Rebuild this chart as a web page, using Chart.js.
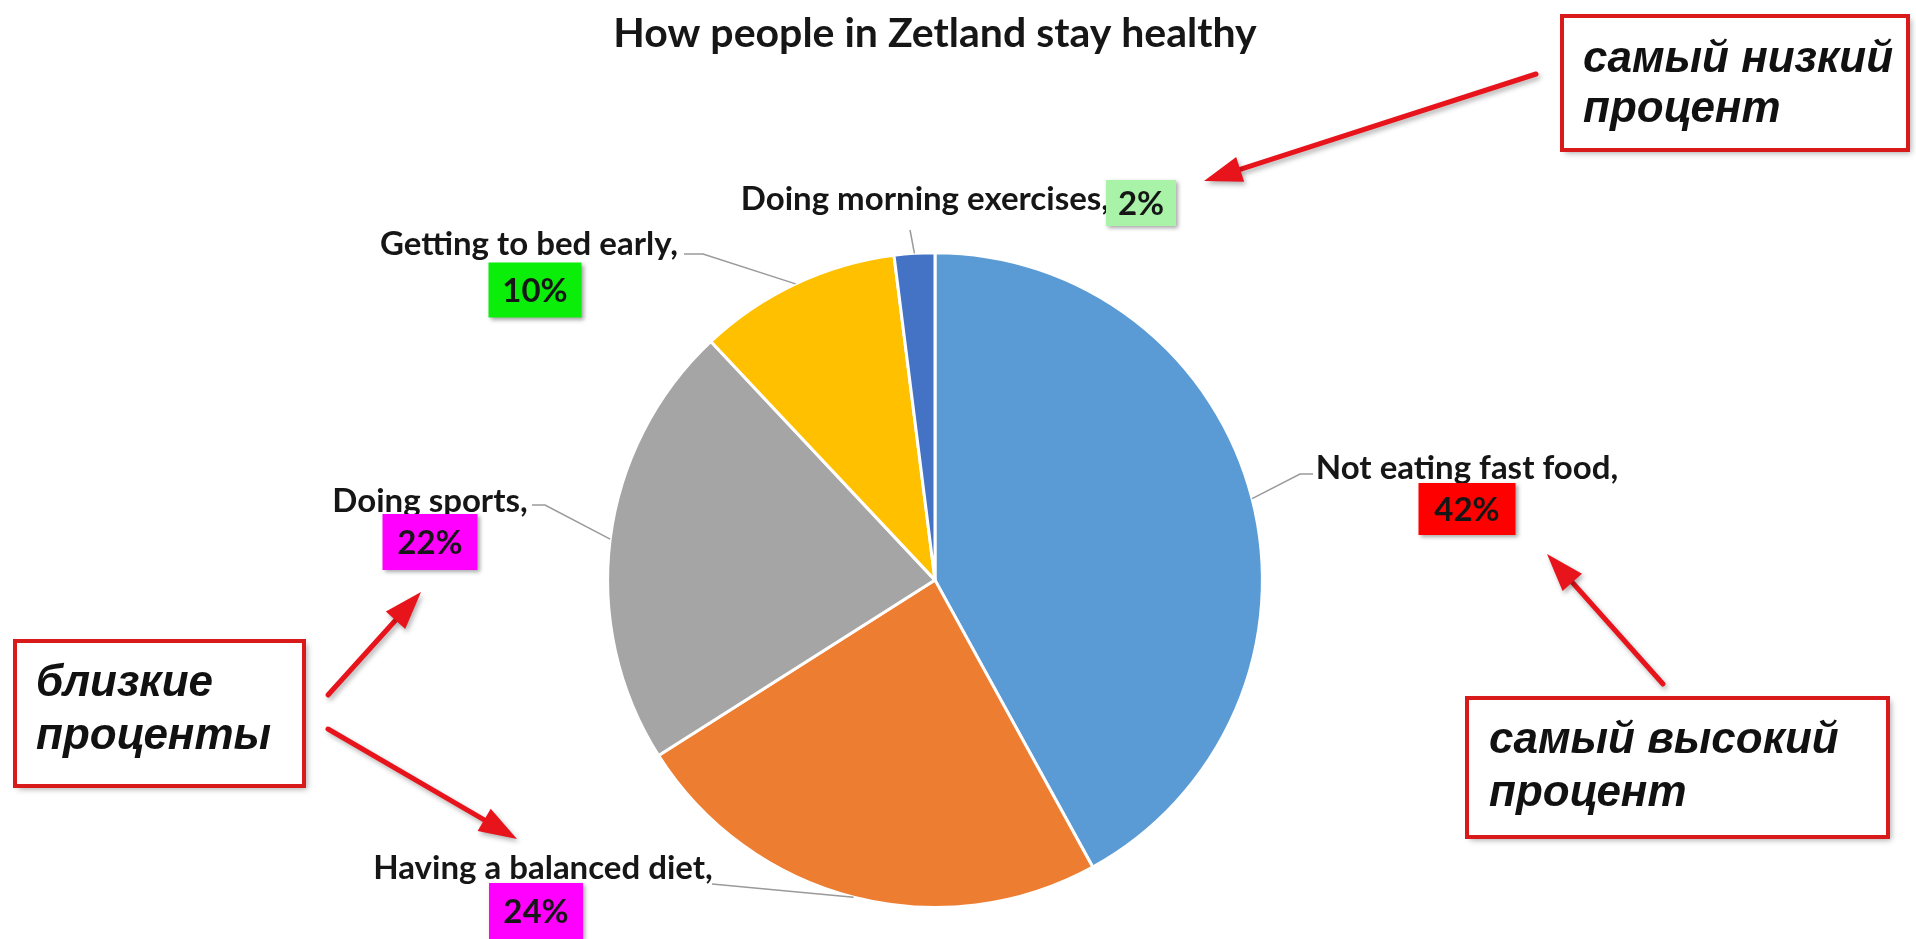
<!DOCTYPE html>
<html>
<head>
<meta charset="utf-8">
<title>How people in Zetland stay healthy</title>
<script src="https://cdn.jsdelivr.net/npm/chart.js@4.4.1/dist/chart.umd.min.js"></script>
<style>
    html, body { margin: 0; padding: 0; background: #fff; }
    #wrap { width: 1916px; height: 939px; position: relative; }
</style>
</head>
<body>
<div id="wrap"><canvas id="healthChart"></canvas></div>
<script>
// 資料
const categories = ['Not eating fast food', 'Having a balanced diet', 'Doing sports', 'Getting to bed early', 'Doing morning exercises'];
const shares = [42, 24, 22, 10, 2];
const sliceColors = ['#5B9BD5', '#ED7D31', '#A5A5A5', '#FFC000', '#4472C4'];
const badgeColors = ['#FF0000', '#FF00FF', '#FF00FF', '#0AEE0A', '#A9F3A9'];

// 標籤位置（畫布座標）
const labelLayout = [
    { name: [1467, 468], align: 'center', box: [1467, 509, 97, 52], leader: [[1300, 474], [1313, 474]] },
    { name: [543, 868], align: 'center', box: [536, 911, 94, 56], leader: [[712, 884]] },
    { name: [430, 501], align: 'center', box: [430, 542, 95, 56], leader: [[545, 505], [532, 505]] },
    { name: [529, 244], align: 'center', box: [535, 290, 93, 55], leader: [[703, 254], [684, 254]] },
    { name: [1109, 199], align: 'right', box: [1141, 203, 70, 46], leader: [[910, 230]] }
];

// 註解方塊與箭頭
const noteBoxes = [
    { x: 1562, y: 16, w: 346, h: 134, lines: ['самый низкий', 'процент'], tx: 1583, ty: [72, 122] },
    { x: 15, y: 641, w: 289, h: 145, lines: ['близкие', 'проценты'], tx: 36, ty: [696, 749] },
    { x: 1467, y: 698, w: 421, h: 139, lines: ['самый высокий', 'процент'], tx: 1489, ty: [753, 806] }
];
const noteArrows = [
    [1536, 74, 1204, 181],
    [328, 695, 421, 592],
    [328, 729, 517, 839],
    [1663, 684, 1547, 554]
];

const labelFont = 'bold 33px Lato';

const sliceLabels = {
    id: 'sliceLabels',
    afterDatasetsDraw(chart) {
        const ctx = chart.ctx;
        const arcs = chart.getDatasetMeta(0).data;
        ctx.save();
        arcs.forEach((arc, i) => {
            const { x, y, startAngle, endAngle, outerRadius } = arc.getProps(['x', 'y', 'startAngle', 'endAngle', 'outerRadius'], true);
            const mid = (startAngle + endAngle) / 2;
            const ex = x + Math.cos(mid) * outerRadius;
            const ey = y + Math.sin(mid) * outerRadius;
            const lay = labelLayout[i];

            // 引導線
            ctx.strokeStyle = '#9A9A9A';
            ctx.lineWidth = 1.5;
            ctx.beginPath();
            ctx.moveTo(ex, ey);
            lay.leader.forEach(p => ctx.lineTo(p[0], p[1]));
            ctx.stroke();

            // 類別名稱
            ctx.font = labelFont;
            ctx.fillStyle = '#161616';
            ctx.textAlign = lay.align;
            ctx.textBaseline = 'middle';
            ctx.fillText(categories[i] + ',', lay.name[0], lay.name[1]);

            // 百分比方塊
            const [bx, by, bw, bh] = lay.box;
            ctx.save();
            ctx.shadowColor = 'rgba(0,0,0,0.35)';
            ctx.shadowBlur = 4;
            ctx.shadowOffsetX = 2;
            ctx.shadowOffsetY = 2;
            ctx.fillStyle = badgeColors[i];
            ctx.fillRect(bx - bw / 2, by - bh / 2, bw, bh);
            ctx.restore();
            ctx.font = labelFont;
            ctx.fillStyle = '#161616';
            ctx.textAlign = 'center';
            ctx.fillText(shares[i] + '%', bx, by + 1);
        });
        ctx.restore();
    }
};

const annotations = {
    id: 'annotations',
    afterDraw(chart) {
        const ctx = chart.ctx;
        ctx.save();
        // 箭頭
        noteArrows.forEach(([x1, y1, x2, y2]) => {
            const ang = Math.atan2(y2 - y1, x2 - x1);
            const headLen = 38, headW = 13;
            const bx = x2 - Math.cos(ang) * headLen;
            const by = y2 - Math.sin(ang) * headLen;
            ctx.save();
            ctx.shadowColor = 'rgba(0,0,0,0.3)';
            ctx.shadowBlur = 5;
            ctx.shadowOffsetX = 2;
            ctx.shadowOffsetY = 3;
            ctx.strokeStyle = '#E8141B';
            ctx.fillStyle = '#E8141B';
            ctx.lineWidth = 5;
            ctx.lineCap = 'round';
            ctx.beginPath();
            ctx.moveTo(x1, y1);
            ctx.lineTo(bx, by);
            ctx.stroke();
            ctx.beginPath();
            ctx.moveTo(x2, y2);
            ctx.lineTo(bx + Math.sin(ang) * headW, by - Math.cos(ang) * headW);
            ctx.lineTo(bx - Math.sin(ang) * headW, by + Math.cos(ang) * headW);
            ctx.closePath();
            ctx.fill();
            ctx.restore();
        });
        // 方塊
        noteBoxes.forEach(b => {
            ctx.save();
            ctx.shadowColor = 'rgba(0,0,0,0.35)';
            ctx.shadowBlur = 6;
            ctx.shadowOffsetX = 3;
            ctx.shadowOffsetY = 3;
            ctx.fillStyle = '#fff';
            ctx.fillRect(b.x, b.y, b.w, b.h);
            ctx.restore();
            ctx.strokeStyle = '#D91A1A';
            ctx.lineWidth = 4;
            ctx.strokeRect(b.x, b.y, b.w, b.h);
            ctx.font = 'italic bold 44px "Liberation Sans"';
            ctx.fillStyle = '#111';
            ctx.textAlign = 'left';
            ctx.textBaseline = 'alphabetic';
            b.lines.forEach((t, k) => ctx.fillText(t, b.tx, b.ty[k]));
        });
        ctx.restore();
    }
};

new Chart(document.getElementById('healthChart'), {
    type: 'pie',
    data: {
        labels: categories,
        datasets: [{
            data: shares,
            backgroundColor: sliceColors,
            borderColor: '#FFFFFF',
            borderWidth: 3
        }]
    },
    options: {
        responsive: true,
        maintainAspectRatio: false,
        animation: false,
        devicePixelRatio: 1,
        layout: {
            padding: { top: 0, left: 0, right: 46, bottom: 30 }
        },
        plugins: {
            legend: { display: false },
            tooltip: { enabled: false },
            title: {
                display: true,
                text: 'How people in Zetland stay healthy',
                color: '#161616',
                font: { family: 'Lato', size: 41, weight: 'bold', lineHeight: 1.2 },
                padding: { top: 9, bottom: 193 }
            }
        }
    },
    plugins: [sliceLabels, annotations]
});
</script>
</body>
</html>
